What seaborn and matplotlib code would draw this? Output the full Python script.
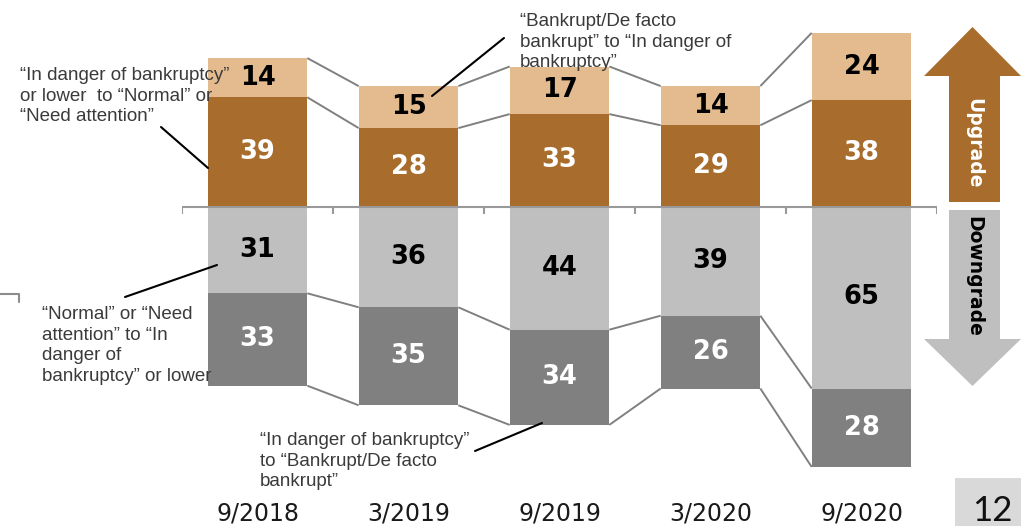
import numpy as np
import pandas as pd
import matplotlib
matplotlib.use("Agg")
import matplotlib.pyplot as plt
from matplotlib.lines import Line2D
from matplotlib.patches import Polygon, Rectangle
import seaborn as sns

# ---- data ---------------------------------------------------------------
periods = ["9/2018", "3/2019", "9/2019", "3/2020", "9/2020"]
# upgrades
up_to_normal = [39, 28, 33, 29, 38]          # "In danger of bankruptcy" or lower -> "Normal"/"Need attention"
up_from_bankrupt = [14, 15, 17, 14, 24]      # "Bankrupt/De facto bankrupt" -> "In danger of bankruptcy"
# downgrades
down_to_danger = [31, 36, 44, 39, 65]        # "Normal"/"Need attention" -> "In danger of bankruptcy" or lower
down_to_bankrupt = [33, 35, 34, 26, 28]      # "In danger of bankruptcy" -> "Bankrupt/De facto bankrupt"

BROWN = "#A86D2C"
TAN = "#E3BB8F"
LGRAY = "#BFBFBF"
DGRAY = "#808080"
LINE = "#808080"
TXT = "#3a3a3a"

W, H = 1021, 526
sns.set_theme(style="white")
plt.rcParams["font.family"] = ["DejaVu Sans"]

fig = plt.figure(figsize=(W / 100, H / 100), dpi=100)

# axes geometry: zero line ~y=206.5px, 2.8 px per unit, categories 151 px apart
k = 2.8
y0 = 206.5
ytop, ybot = 70, -102
ax_top = y0 - ytop * k
ax_bot = y0 - ybot * k
ax = fig.add_axes([182 / W, 1 - ax_bot / H, 755 / W, (ax_bot - ax_top) / H])

df = pd.DataFrame({
    "period": periods,
    "up_low": up_to_normal,
    "up_high": up_from_bankrupt,
    "down_first": down_to_danger,
    "down_second": down_to_bankrupt,
})
df["up_total"] = df["up_low"] + df["up_high"]
df["down_first_neg"] = -df["down_first"]
df["down_total_neg"] = -(df["down_first"] + df["down_second"])

bw = 0.66
common = dict(data=df, x="period", order=periods, width=bw, saturation=1,
              linewidth=0, ax=ax, errorbar=None)
sns.barplot(y="up_total", color=TAN, **common)
sns.barplot(y="up_low", color=BROWN, **common)
sns.barplot(y="down_total_neg", color=DGRAY, **common)
sns.barplot(y="down_first_neg", color=LGRAY, **common)

ax.set_xlim(-0.5, len(periods) - 0.5)
ax.set_ylim(ybot, ytop)
ax.set_xlabel("")
ax.set_ylabel("")
ax.set_yticks([])
for s in ax.spines.values():
    s.set_visible(False)
ax.tick_params(axis="x", length=0, pad=6.5, labelsize=17, labelcolor="#1a1a1a")

# zero line with category boundary ticks
xs = np.arange(len(periods))
ax.plot([-0.5, len(periods) - 0.5], [0, 0], color="#999999", lw=1.5, zorder=4)
ax.vlines(np.arange(len(periods) + 1) - 0.5, -2.6, 0, color="#999999", lw=1.5, zorder=4)

# connectors between neighbouring bars
levels = [
    df["up_low"].values,
    df["up_total"].values,
    df["down_first_neg"].values,
    df["down_total_neg"].values,
]
for lv in levels:
    for i in range(len(periods) - 1):
        ax.plot([xs[i] + bw / 2, xs[i + 1] - bw / 2], [lv[i], lv[i + 1]],
                color=LINE, lw=1.4, zorder=1, solid_capstyle="butt")

# value labels
lab = dict(ha="center", va="center", fontsize=18.5, fontweight="bold", zorder=5)
for i in range(len(periods)):
    lo, hi = df["up_low"][i], df["up_high"][i]
    d1, d2 = df["down_first"][i], df["down_second"][i]
    ax.text(xs[i], lo / 2, f"{lo}", color="white", **lab)
    ax.text(xs[i], lo + hi / 2, f"{hi}", color="black", **lab)
    ax.text(xs[i], -d1 / 2, f"{d1}", color="black", **lab)
    ax.text(xs[i], -d1 - d2 / 2, f"{d2}", color="white", **lab)


# ---- figure-level decorations (pixel coordinates) -----------------------
def fx(x):
    return x / W


def fy(y):
    return 1 - y / H


def fline(pts, color="black", lw=1.5):
    fig.add_artist(Line2D([fx(p[0]) for p in pts], [fy(p[1]) for p in pts],
                          color=color, lw=lw, transform=fig.transFigure))


ann_font = ["Liberation Sans", "DejaVu Sans"]
ann = dict(fontsize=13.5, color=TXT, family=ann_font, ha="left", va="top",
           linespacing=1.28)
fig.text(fx(20), fy(67),
         "\u201cIn danger of bankruptcy\u201d\nor lower  to \u201cNormal\u201d or\n\u201cNeed attention\u201d",
         **ann)
fig.text(fx(520), fy(13),
         "\u201cBankrupt/De facto\nbankrupt\u201d to \u201cIn danger of\nbankruptcy\u201d",
         **ann)
fig.text(fx(42), fy(306),
         "\u201cNormal\u201d or \u201cNeed\nattention\u201d to \u201cIn\ndanger of\nbankruptcy\u201d or lower",
         **ann)
fig.text(fx(260), fy(432),
         "\u201cIn danger of bankruptcy\u201d\nto \u201cBankrupt/De facto\nbankrupt\u201d",
         **ann)

fline([(161, 127), (208, 168)])
fline([(432, 96), (504, 38)])
fline([(125, 297), (217, 265)])
fline([(475, 451), (542, 423)])
fline([(0, 294), (19, 294), (19, 302)], color="#8c8c8c", lw=1.5)

# upgrade / downgrade arrows
up_arrow = [(949, 202), (949, 76), (924, 76), (972.5, 27), (1021, 76), (1000, 76), (1000, 202)]
dn_arrow = [(949, 210), (949, 339), (924, 339), (972.5, 386), (1021, 339), (1000, 339), (1000, 210)]
fig.add_artist(Polygon([(fx(x), fy(y)) for x, y in up_arrow], closed=True,
                       facecolor=BROWN, edgecolor="none", transform=fig.transFigure))
fig.add_artist(Polygon([(fx(x), fy(y)) for x, y in dn_arrow], closed=True,
                       facecolor=LGRAY, edgecolor="none", transform=fig.transFigure))
fig.text(fx(974), fy(143), "Upgrade", rotation=-90, ha="center", va="center",
         fontsize=13.5, fontweight="bold", color="white")
fig.text(fx(974), fy(276), "Downgrade", rotation=-90, ha="center", va="center",
         fontsize=13.5, fontweight="bold", color="black")

# page number
fig.add_artist(Rectangle((fx(955), fy(526)), fx(66), 48 / H, facecolor="#D9D9D9",
                         edgecolor="none", transform=fig.transFigure))
fig.text(fx(992), fy(511), "12", ha="center", va="center", fontsize=25,
         color="#111111", family=["Lato", "DejaVu Sans"], fontweight="normal")

fig.savefig("out.png", dpi=100)
